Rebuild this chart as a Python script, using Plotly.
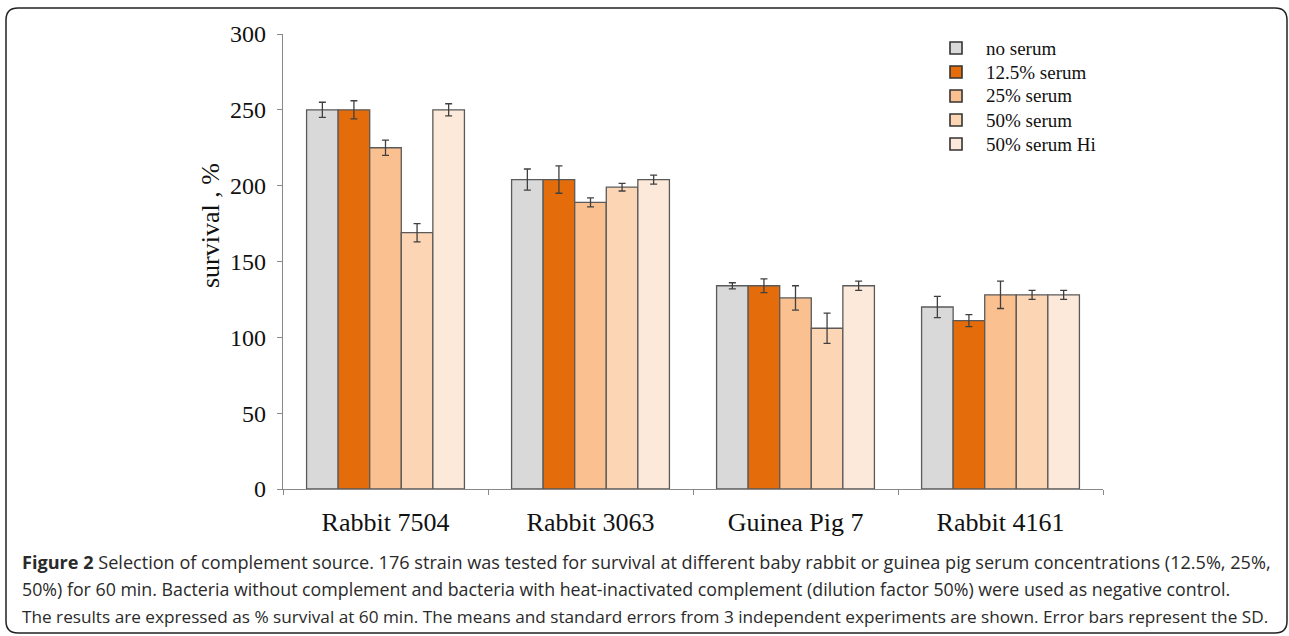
import plotly.graph_objects as go

# Strains / serum sources on the x axis
categories = ["Rabbit 7504", "Rabbit 3063", "Guinea Pig 7", "Rabbit 4161"]

# Survival (%) at 60 min for each serum condition, with SD
series_names = ["no serum", "12.5% serum", "25% serum", "50% serum", "50% serum Hi"]
no_serum = [250, 204, 134, 120]
serum_12_5 = [250, 204, 134, 111]
serum_25 = [225, 189, 126, 128]
serum_50 = [169, 199, 106, 128]
serum_50_hi = [250, 204, 134, 128]

sd_no_serum = [5, 7, 2, 7]
sd_serum_12_5 = [6, 9, 4.5, 4]
sd_serum_25 = [5, 3, 8, 9]
sd_serum_50 = [6, 2.5, 10, 3]
sd_serum_50_hi = [4, 3, 3, 3]

y_ticks = [0, 50, 100, 150, 200, 250, 300]

caption_lines = [
    "<b>Figure 2</b> Selection of complement source. 176 strain was tested for survival at different baby rabbit or guinea pig serum concentrations (12.5%, 25%,",
    "50%) for 60 min. Bacteria without complement and bacteria with heat-inactivated complement (dilution factor 50%) were used as negative control.",
    "The results are expressed as % survival at 60 min. The means and standard errors from 3 independent experiments are shown. Error bars represent the SD.",
]
caption_sizes = [18.1, 17.8, 17.2]

values = [no_serum, serum_12_5, serum_25, serum_50, serum_50_hi]
errors = [sd_no_serum, sd_serum_12_5, sd_serum_25, sd_serum_50, sd_serum_50_hi]
colors = ["#d9d9d9", "#e46c0a", "#fac090", "#fcd5b5", "#fde9d9"]

W, H = 1289, 636
L, R, T, B = 283, 186, 34, 147
PW, PH = W - L - R, H - T - B


def px(x):
    return (x - L) / PW


def py(y):
    return (H - B - y) / PH


serif = "Liberation Serif, Times New Roman, serif"
edge = "#5a5a5a"

fig = go.Figure()
for name, vals, errs, col in zip(series_names, values, errors, colors):
    fig.add_trace(go.Bar(
        name=name,
        x=categories,
        y=vals,
        showlegend=False,
        marker=dict(color=col, line=dict(color=edge, width=1.3)),
        error_y=dict(type="data", array=errs, visible=True,
                     color="#404040", thickness=1.3, width=3.5),
    ))

# Key: small outlined squares with series names
for i, (name, col) in enumerate(zip(series_names, colors)):
    yc = 48 + 24 * i
    fig.add_shape(type="rect", xref="paper", yref="paper",
                  x0=px(950), x1=px(962), y0=py(yc + 6), y1=py(yc - 6),
                  fillcolor=col, line=dict(color="#333333", width=1.6))
    fig.add_annotation(text=name, xref="paper", yref="paper",
                       x=px(984), y=py(yc), xanchor="left", yanchor="middle",
                       showarrow=False,
                       font=dict(family=serif, size=19, color="#111111"))

# Y axis title
fig.add_annotation(text="survival , %", xref="paper", yref="paper",
                   x=px(210), y=py(226), textangle=-90,
                   xanchor="center", yanchor="middle", showarrow=False,
                   font=dict(family=serif, size=26, color="#111111"))

# Rounded frame around figure and caption
x0, y0, x1, y1, r = 6, 8, 1287, 633, 12
path = (
    f"M {px(x0 + r)},{py(y0)} L {px(x1 - r)},{py(y0)} "
    f"Q {px(x1)},{py(y0)} {px(x1)},{py(y0 + r)} "
    f"L {px(x1)},{py(y1 - r)} Q {px(x1)},{py(y1)} {px(x1 - r)},{py(y1)} "
    f"L {px(x0 + r)},{py(y1)} Q {px(x0)},{py(y1)} {px(x0)},{py(y1 - r)} "
    f"L {px(x0)},{py(y0 + r)} Q {px(x0)},{py(y0)} {px(x0 + r)},{py(y0)} Z"
)
fig.add_shape(type="path", path=path, xref="paper", yref="paper",
              line=dict(color="#222222", width=1.5), layer="above")

for i, (line, size) in enumerate(zip(caption_lines, caption_sizes)):
    fig.add_annotation(
        text=line, xref="paper", yref="paper",
        x=px(20), y=py(562 + 27 * i), xanchor="left", yanchor="middle",
        showarrow=False, align="left",
        font=dict(family="Open Sans, sans-serif", size=size, color="#2a2a2a"),
    )

fig.update_layout(
    width=W, height=H,
    margin=dict(l=L, r=R, t=T, b=B, pad=0),
    paper_bgcolor="white", plot_bgcolor="white",
    barmode="group", bargap=0.23, bargroupgap=0,
    font=dict(family=serif, color="#111111"),
    showlegend=False,
    xaxis=dict(
        showline=True, linecolor="#888888", linewidth=1.3,
        ticks="outside", tickson="boundaries", ticklen=5, tickcolor="#888888",
        tickfont=dict(family=serif, size=26, color="#111111"),
        ticklabelstandoff=10,
        showgrid=False, zeroline=False,
    ),
    yaxis=dict(
        range=[0, 300], tickvals=y_ticks,
        showline=True, linecolor="#888888", linewidth=1.3,
        ticks="outside", ticklen=5, tickcolor="#888888",
        tickfont=dict(family=serif, size=24, color="#111111"),
        ticklabelstandoff=6,
        showgrid=False, zeroline=False,
    ),
)

fig.write_html("out.html")
